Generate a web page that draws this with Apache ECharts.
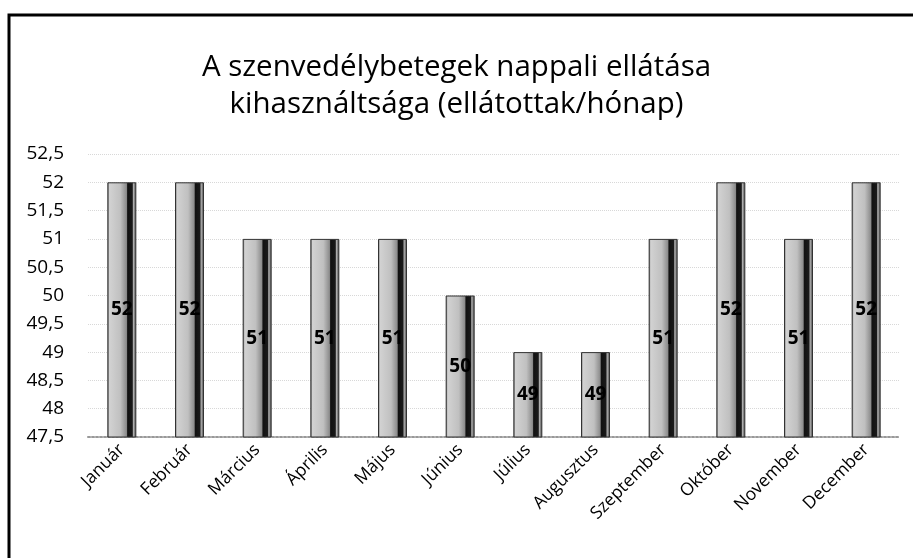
<!DOCTYPE html>
<html>
<head>
<meta charset="utf-8">
<script src="https://cdn.jsdelivr.net/npm/echarts@6/dist/echarts.min.js"></script>
<style>
  html, body { margin: 0; padding: 0; background: #fff; }
  #chart { width: 913px; height: 558px; }
</style>
</head>
<body>
<div id="chart"></div>
<script>
// havi adatok
var months = ['Január', 'Február', 'Március', 'Április', 'Május', 'Június',
    'Július', 'Augusztus', 'Szeptember', 'Október', 'November', 'December'];
var values = [52, 52, 51, 51, 51, 50, 49, 49, 51, 52, 51, 52];
var yMin = 47.5, yMax = 52.5, yStep = 0.5;

var barColor = new echarts.graphic.LinearGradient(0, 0, 1, 0, [
    { offset: 0, color: '#4a4a4a' },
    { offset: 0.07, color: '#d2d2d2' },
    { offset: 0.45, color: '#c0c0c0' },
    { offset: 0.66, color: '#8c8c8c' },
    { offset: 0.7, color: '#111' },
    { offset: 0.86, color: '#1a1a1a' },
    { offset: 0.9, color: '#b0b0b0' },
    { offset: 1, color: '#3a3a3a' }
]);

var option = {
    backgroundColor: '#fff',
    title: {
        text: 'A szenvedélybetegek nappali ellátása\nkihasználtsága (ellátottak/hónap)',
        left: 'center',
        top: 44,
        textStyle: {
            fontFamily: 'Open Sans',
            fontWeight: 'normal',
            fontSize: 29.5,
            lineHeight: 37,
            color: '#000'
        }
    },
    graphic: [{
        type: 'rect',
        shape: { x: 9, y: 15, width: 940, height: 580 },
        style: { fill: 'none', stroke: '#000', lineWidth: 3 }
    }],
    grid: { left: 88, right: 13, top: 154, bottom: 121 },
    xAxis: {
        type: 'category',
        data: months,
        axisLine: { lineStyle: { color: '#999', type: 'dotted', width: 2 } },
        axisTick: { show: false },
        axisLabel: {
            rotate: 45,
            interval: 0,
            margin: 10,
            fontFamily: 'Open Sans',
            fontSize: 17.5,
            color: '#000'
        }
    },
    yAxis: {
        type: 'value',
        min: yMin,
        max: yMax,
        interval: yStep,
        axisLine: { show: false },
        axisTick: { show: false },
        splitLine: { lineStyle: { color: '#d8d8d8', type: 'dotted' } },
        axisLabel: {
            margin: 24,
            fontFamily: 'Open Sans',
            fontSize: 19,
            color: '#000',
            formatter: function (v) { return String(v).replace('.', ','); }
        }
    },
    series: [{
        type: 'bar',
        data: values,
        barWidth: 29,
        itemStyle: { color: barColor, borderColor: '#333', borderWidth: 1 },
        label: {
            show: true,
            position: 'inside',
            fontFamily: 'Open Sans',
            fontWeight: 'bold',
            fontSize: 19,
            color: '#000'
        }
    }]
};

var myChart = echarts.init(document.getElementById('chart'));
myChart.setOption(option);
</script>
</body>
</html>
